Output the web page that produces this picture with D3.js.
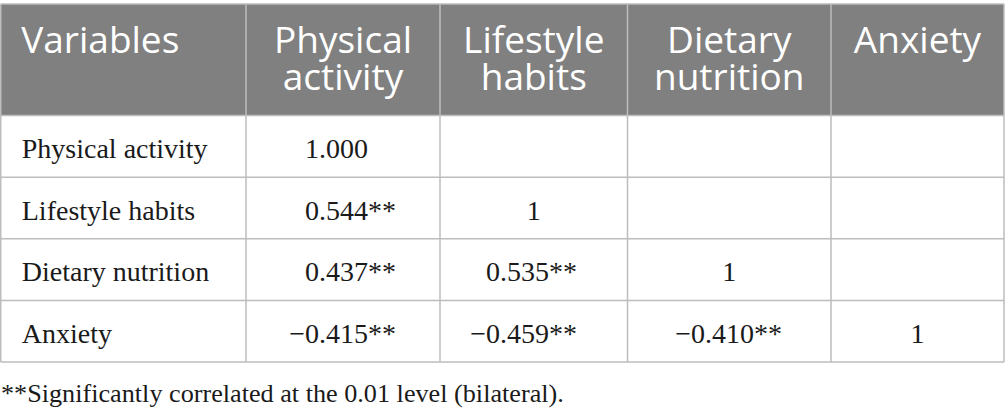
<!DOCTYPE html>
<html>
<head>
<meta charset="utf-8">
<script src="https://cdn.jsdelivr.net/npm/d3@7"></script>
<style>
  html, body { margin: 0; padding: 0; background: #ffffff; }
  #wrap { position: relative; width: 1005px; height: 417px; overflow: hidden; }
  svg { display: block; position: absolute; left: 0; top: 0; }
  .hcell { position: absolute; color: #ffffff; font-family: 'Open Sans', 'Noto Sans', sans-serif; font-size: 37px; line-height: 37px; }
</style>
</head>
<body>
<div id="wrap"><svg id="chart" width="1005" height="417"></svg></div>
<script>
// ---- data ----
const headerLabels = ["Variables", "Physical activity", "Lifestyle habits", "Dietary nutrition", "Anxiety"];
const rowVariables = ["Physical activity", "Lifestyle habits", "Dietary nutrition", "Anxiety"];
const physicalActivity = ["1.000", "0.544**", "0.437**", "\u22120.415**"];
const lifestyleHabits = ["", "1", "0.535**", "\u22120.459**"];
const dietaryNutrition = ["", "", "1", "\u22120.410**"];
const anxiety = ["", "", "", "1"];
const footnote = "**Significantly correlated at the 0.01 level (bilateral).";

// ---- layout ----
const svg = d3.select("#chart");
const wrap = d3.select("#wrap");
const colEdges = [0.75, 246, 440, 627.5, 831, 1004];
const colNumEnd = [0, 368, 549, 754, 0];
const headerTop = 4, headerBottom = 115.5, tableBottom = 362;
const gridColor = "#bdbdbd";
const headerFill = "#808080";
const serif = "'Liberation Serif', 'DejaVu Serif', serif";

const valueColumns = [rowVariables, physicalActivity, lifestyleHabits, dietaryNutrition, anxiety];

const y = d3.scaleBand().domain(d3.range(rowVariables.length)).range([headerBottom, tableBottom]).padding(0);
const colX = d3.scaleOrdinal().domain(d3.range(headerLabels.length)).range(colEdges.slice(0, -1));
const colW = i => colEdges[i + 1] - colEdges[i];

// header background
svg.append("rect")
  .attr("x", colEdges[0]).attr("y", headerTop)
  .attr("width", colEdges[colEdges.length - 1] - colEdges[0])
  .attr("height", headerBottom - headerTop)
  .attr("fill", headerFill);

// body cells
const body = svg.append("g").attr("font-family", serif).attr("font-size", 28).attr("fill", "#1a1a1a");
valueColumns.forEach((col, c) => {
  col.forEach((v, r) => {
    if (!v) return;
    const base = y(r) + 42.5;
    if (c === 0) {
      body.append("text").attr("x", colX(c) + 21).attr("y", base).text(v);
    } else if (v.indexOf(".") >= 0) {
      const stars = v.endsWith("**") ? "**" : "";
      const num = stars ? v.slice(0, -2) : v;
      body.append("text").attr("x", colNumEnd[c]).attr("y", base).attr("text-anchor", "end").text(num);
      if (stars) body.append("text").attr("x", colNumEnd[c]).attr("y", base).text(stars);
    } else {
      body.append("text").attr("x", colX(c) + colW(c) / 2).attr("y", base).attr("text-anchor", "middle").text(v);
    }
  });
});

// grid lines
const grid = svg.append("g").attr("stroke", gridColor).attr("stroke-width", 1.5).attr("fill", "none");
[headerTop, headerBottom].concat(d3.range(rowVariables.length).map(r => y(r) + y.bandwidth())).forEach(yy => {
  grid.append("line").attr("x1", colEdges[0]).attr("x2", colEdges[colEdges.length - 1]).attr("y1", yy).attr("y2", yy);
});
colEdges.forEach(xx => {
  grid.append("line").attr("x1", xx).attr("x2", xx).attr("y1", headerTop).attr("y2", tableBottom);
});

// footnote
svg.append("text")
  .attr("x", 1).attr("y", 402)
  .attr("font-family", serif).attr("font-size", 26.2).attr("fill", "#1a1a1a")
  .text(footnote);

// header text: one wrapping text block per column, 37px line box
wrap.selectAll("div.hcell").data(headerLabels).join("div")
  .attr("class", "hcell")
  .style("left", (d, i) => (i === 0 ? colX(i) + 20.5 : colX(i)) + "px")
  .style("top", "20px")
  .style("width", (d, i) => (i === 0 ? colW(i) - 21 : colW(i)) + "px")
  .style("text-align", (d, i) => i === 0 ? "left" : "center")
  .text(d => d);
</script>
</body>
</html>
